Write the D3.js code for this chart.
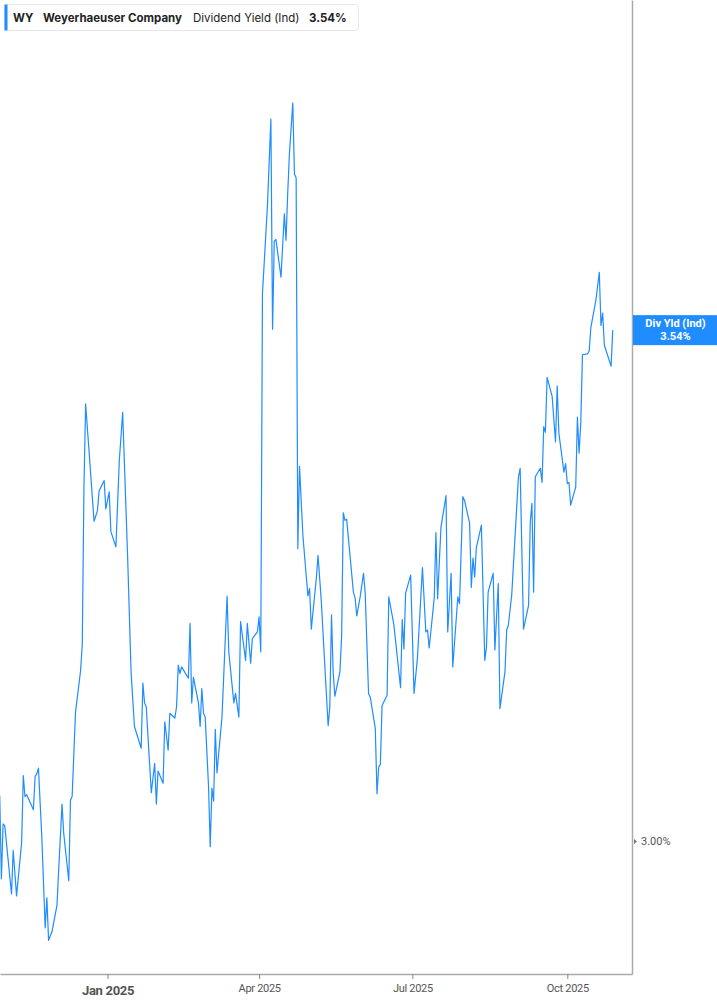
<!DOCTYPE html>
<html>
<head>
<meta charset="utf-8">
<script src="https://cdn.jsdelivr.net/npm/d3@7"></script>
<style>
  body { margin: 0; background: #fff; }
  #chart svg { display: block; }
</style>
</head>
<body>
<div id="chart"></div>
<script>
const ticker = "WY";
const company = "Weyerhaeuser Company";
const metric = "Dividend Yield (Ind)";
const lastLabel = "Div Yld (Ind)";

const dates = [
  "2024-10-29","2024-10-30","2024-10-31","2024-11-01","2024-11-05","2024-11-06","2024-11-08","2024-11-11","2024-11-12","2024-11-13",
  "2024-11-14","2024-11-16","2024-11-18","2024-11-19","2024-11-20","2024-11-21","2024-11-23","2024-11-25","2024-11-26","2024-11-27",
  "2024-11-29","2024-12-02","2024-12-03","2024-12-05","2024-12-06","2024-12-09","2024-12-10","2024-12-11","2024-12-13","2024-12-16",
  "2024-12-17","2024-12-18","2024-12-19","2024-12-21","2024-12-24","2024-12-26","2024-12-27","2024-12-30","2024-12-31","2025-01-02",
  "2025-01-03","2025-01-06","2025-01-08","2025-01-10","2025-01-13","2025-01-15","2025-01-17","2025-01-21","2025-01-22","2025-01-23",
  "2025-01-24","2025-01-27","2025-01-29","2025-01-30","2025-01-31","2025-02-03","2025-02-04","2025-02-06","2025-02-07","2025-02-10",
  "2025-02-11","2025-02-12","2025-02-13","2025-02-14","2025-02-18","2025-02-19","2025-02-20","2025-02-21","2025-02-24","2025-02-25",
  "2025-02-26","2025-02-27","2025-02-28","2025-03-02","2025-03-03","2025-03-04","2025-03-05","2025-03-06","2025-03-07","2025-03-10",
  "2025-03-13","2025-03-14","2025-03-17","2025-03-18","2025-03-20","2025-03-21","2025-03-24","2025-03-25","2025-03-27","2025-03-28",
  "2025-03-31","2025-04-01","2025-04-02","2025-04-03","2025-04-04","2025-04-06","2025-04-08","2025-04-09","2025-04-10","2025-04-11",
  "2025-04-14","2025-04-16","2025-04-17","2025-04-18","2025-04-19","2025-04-21","2025-04-22","2025-04-23","2025-04-24","2025-04-25",
  "2025-04-27","2025-04-30","2025-05-01","2025-05-02","2025-05-05","2025-05-06","2025-05-08","2025-05-10","2025-05-12","2025-05-13",
  "2025-05-14","2025-05-15","2025-05-16","2025-05-19","2025-05-20","2025-05-21","2025-05-22","2025-05-23","2025-05-27","2025-05-28",
  "2025-05-29","2025-05-31","2025-06-02","2025-06-03","2025-06-05","2025-06-06","2025-06-09","2025-06-10","2025-06-11","2025-06-12",
  "2025-06-13","2025-06-16","2025-06-17","2025-06-20","2025-06-24","2025-06-25","2025-06-26","2025-06-27","2025-06-30","2025-07-02",
  "2025-07-04","2025-07-07","2025-07-09","2025-07-10","2025-07-11","2025-07-14","2025-07-15","2025-07-16","2025-07-18","2025-07-21",
  "2025-07-22","2025-07-24","2025-07-25","2025-07-28","2025-07-29","2025-07-31","2025-08-01","2025-08-04","2025-08-05","2025-08-06",
  "2025-08-07","2025-08-08","2025-08-11","2025-08-13","2025-08-14","2025-08-15","2025-08-18","2025-08-19","2025-08-21","2025-08-22",
  "2025-08-25","2025-08-26","2025-08-27","2025-08-29","2025-09-02","2025-09-03","2025-09-05","2025-09-08","2025-09-09","2025-09-10",
  "2025-09-11","2025-09-12","2025-09-15","2025-09-16","2025-09-17","2025-09-18","2025-09-19","2025-09-22","2025-09-24","2025-09-25",
  "2025-09-26","2025-09-29","2025-09-30","2025-10-01","2025-10-02","2025-10-03","2025-10-06","2025-10-07","2025-10-08","2025-10-09",
  "2025-10-10","2025-10-13","2025-10-14","2025-10-15","2025-10-18","2025-10-20","2025-10-21","2025-10-22","2025-10-23","2025-10-27",
  "2025-10-28"
];

// dividend yield, %
const yields = [
  3.048,2.960,3.018,3.016,2.944,2.990,2.942,2.998,3.069,3.047,
  3.049,3.041,3.033,3.068,3.071,3.077,3.004,2.908,2.940,2.895,
  2.904,2.932,2.969,3.039,3.008,2.958,3.043,3.047,3.136,3.180,
  3.207,3.372,3.462,3.413,3.338,3.349,3.370,3.381,3.351,3.369,
  3.327,3.311,3.402,3.453,3.297,3.178,3.121,3.098,3.167,3.146,
  3.142,3.051,3.082,3.039,3.074,3.061,3.126,3.096,3.135,3.130,
  3.142,3.186,3.177,3.184,3.172,3.230,3.146,3.173,3.146,3.121,
  3.161,3.135,3.131,3.057,2.994,3.056,3.042,3.118,3.072,3.132,
  3.259,3.200,3.146,3.156,3.131,3.232,3.191,3.230,3.188,3.214,
  3.221,3.237,3.200,3.579,3.610,3.673,3.763,3.541,3.634,3.636,
  3.596,3.663,3.635,3.685,3.726,3.780,3.705,3.701,3.309,3.396,
  3.323,3.259,3.267,3.224,3.278,3.302,3.252,3.186,3.122,3.142,
  3.239,3.178,3.153,3.179,3.216,3.347,3.339,3.340,3.263,3.257,
  3.238,3.258,3.283,3.262,3.156,3.152,3.119,3.050,3.078,3.081,
  3.143,3.154,3.258,3.229,3.162,3.234,3.203,3.262,3.281,3.156,
  3.193,3.289,3.221,3.223,3.204,3.257,3.326,3.256,3.332,3.365,
  3.221,3.283,3.184,3.258,3.251,3.364,3.360,3.336,3.268,3.299,
  3.279,3.310,3.334,3.191,3.205,3.263,3.283,3.202,3.272,3.140,
  3.179,3.223,3.228,3.260,3.385,3.394,3.224,3.249,3.337,3.357,
  3.263,3.385,3.394,3.379,3.438,3.432,3.490,3.470,3.422,3.481,
  3.431,3.390,3.399,3.378,3.379,3.355,3.374,3.448,3.410,3.442,
  3.514,3.515,3.518,3.543,3.572,3.601,3.545,3.558,3.524,3.502,
  3.540
];

const xTicks = ["2025-01-01", "2025-04-01", "2025-07-01", "2025-10-01"];
const yTicks = [3.00];

const parseDate = d3.utcParse("%Y-%m-%d");
const data = dates.map((d, i) => ({date: parseDate(d), value: yields[i]}));
const last = data[data.length - 1];

const width = 717;
const height = 1005;
const margin = ({top: 0, right: 85, bottom: 31, left: 0});

const x = d3.scaleUtc()
    .domain([Date.UTC(2024, 9, 29, 4), Date.UTC(2025, 10, 8, 10)])
    .range([margin.left, width - margin.right]);

const y = d3.scaleLinear()
    .domain([2.8594, 3.889])
    .range([height - margin.bottom, margin.top]);

const svg = d3.select("#chart").append("svg")
    .attr("width", width)
    .attr("height", height)
    .attr("viewBox", [0, 0, width, height]);

const line = d3.line()
    .x(d => x(d.date))
    .y(d => y(d.value));

svg.append("path")
    .datum(data)
    .attr("fill", "none")
    .attr("stroke", "#1f8cff")
    .attr("stroke-width", 1.2)
    .attr("stroke-linejoin", "round")
    .attr("d", line);

// bottom axis
const xAxis = g => g
    .attr("transform", `translate(0,${height - margin.bottom})`)
    .call(d3.axisBottom(x)
        .tickValues(xTicks.map(parseDate))
        .tickSize(5)
        .tickSizeOuter(0)
        .tickFormat(d3.utcFormat("%b %Y")))
    .call(g => g.select(".domain").attr("stroke", "#aaa").attr("stroke-width", 1.5))
    .call(g => g.selectAll(".tick line").attr("stroke", "#888"))
    .call(g => g.selectAll(".tick text")
        .attr("y", 10)
        .attr("fill", "#555")
        .attr("font-family", "Roboto, sans-serif")
        .attr("font-size", 11)
        .attr("letter-spacing", -0.3))
    .call(g => g.selectAll(".tick").filter(d => d.getUTCMonth() === 0).select("text")
        .attr("y", 12)
        .attr("font-size", 13)
        .attr("font-weight", "bold"));

svg.append("g").call(xAxis);

// right axis
const yAxis = g => g
    .attr("transform", `translate(${width - margin.right},0)`)
    .call(d3.axisRight(y)
        .tickValues(yTicks)
        .tickSize(0)
        .tickPadding(9)
        .tickFormat(d => d3.format(".2f")(d) + "%"))
    .call(g => g.select(".domain").attr("stroke", "#aaa").attr("stroke-width", 1.5))
    .call(g => g.selectAll(".tick text")
        .attr("fill", "#555")
        .attr("font-family", "Roboto, sans-serif")
        .attr("font-size", 11))
    .call(g => g.selectAll(".tick").append("path")
        .attr("d", "M2,-2.5L5,0L2,2.5Z")
        .attr("fill", "#777"));

svg.append("g").call(yAxis);

// last value flag
const flag = svg.append("g")
    .attr("transform", `translate(${width - margin.right + 1},${y(last.value)})`);

flag.append("rect")
    .attr("x", 0)
    .attr("y", -15)
    .attr("width", margin.right)
    .attr("height", 30)
    .attr("fill", "#1f8cff");

flag.append("text")
    .attr("x", margin.right / 2)
    .attr("y", -3)
    .attr("text-anchor", "middle")
    .attr("fill", "#fff")
    .attr("font-family", "Roboto, sans-serif")
    .attr("font-weight", "bold")
    .attr("font-size", 11)
    .text(lastLabel);

flag.append("text")
    .attr("x", margin.right / 2)
    .attr("y", 10)
    .attr("text-anchor", "middle")
    .attr("fill", "#fff")
    .attr("font-family", "Roboto, sans-serif")
    .attr("font-weight", "bold")
    .attr("font-size", 11)
    .text(d3.format(".2f")(last.value) + "%");

// legend
const legend = svg.append("g").attr("transform", "translate(4,4)");

legend.append("rect")
    .attr("x", 0.5)
    .attr("y", 0.5)
    .attr("width", 354)
    .attr("height", 26)
    .attr("rx", 3)
    .attr("fill", "#fff")
    .attr("stroke", "#e8e8e8");

legend.append("rect")
    .attr("x", 0.5)
    .attr("y", 0.5)
    .attr("width", 3)
    .attr("height", 26)
    .attr("fill", "#1f8cff");

const legendText = legend.append("text")
    .attr("y", 17.5)
    .attr("font-family", "Inter, sans-serif")
    .attr("font-size", 11.5)
    .attr("fill", "#222");

legendText.append("tspan").attr("x", 9).attr("font-weight", "bold").text(ticker);
legendText.append("tspan").attr("x", 39).attr("font-weight", "bold").text(company);
legendText.append("tspan").attr("x", 189).text(metric);
legendText.append("tspan").attr("x", 305).attr("font-weight", "bold")
    .text(d3.format(".2f")(last.value) + "%");
</script>
</body>
</html>
